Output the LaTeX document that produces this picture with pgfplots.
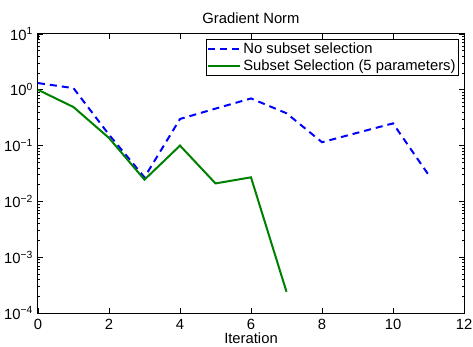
\documentclass[border=0pt]{standalone}
\usepackage{pgfplots}
\pgfplotsset{compat=1.18}
\usepackage{fontspec}
\setmainfont{Liberation Sans}
\definecolor{mblue}{rgb}{0,0,1}
\definecolor{mgreen}{rgb}{0,0.5,0}
\begin{document}
\fontsize{14.8}{17}\selectfont
\begin{tikzpicture}
\useasboundingbox (-38pt,-34pt) rectangle (435pt,313pt);
\begin{axis}[
  scale only axis,
  width=426pt, height=279pt,
  ymode=log,
  xmin=0, xmax=12, ymin=1e-4, ymax=1e1,
  xtick={0,2,...,12},
  ytick={1e-4,1e-3,1e-2,1e-1,1e0,1e1},
  yticklabels={10\textsuperscript{−4},10\textsuperscript{−3},10\textsuperscript{−2},10\textsuperscript{−1},10\textsuperscript{0},10\textsuperscript{1}},
  /pgf/number format/assume math mode=true,
  tick align=inside,
  major tick length=5pt,
  minor tick length=2.5pt,
  tick style={black, line width=0.6pt},
  axis line style={black, line width=1pt},
  xticklabel style={font=\fontsize{14.8}{17}\selectfont, yshift=-1pt},
  yticklabel style={font=\fontsize{14.8}{17}\selectfont},
  title={Gradient Norm},
  title style={font=\fontsize{14.8}{17}\selectfont, yshift=-1pt},
  xlabel={Iteration},
  xlabel style={font=\fontsize{14.8}{17}\selectfont, yshift=7pt},
  legend style={at={(rel axis cs:1,1)}, anchor=north east, xshift=-5pt, yshift=-5pt,
    draw=black, line width=0.8pt, font=\fontsize{14.8}{17}\selectfont,
    inner sep=1pt, row sep=0pt, cells={anchor=west}},
  legend image code/.code={\draw[#1, line width=2pt] (0pt,0pt) -- (32pt,0pt);},
  legend cell align=left,
]
\addplot[mblue, line width=2pt, dash pattern=on 7pt off 5pt] coordinates {
(0,1.32) (1,1.07) (2,0.157) (3,0.027) (4,0.30) (5,0.46) (6,0.70) (7,0.38) (8,0.115) (9,0.17) (10,0.25) (11,0.030)
};
\addlegendentry{No subset selection}
\addplot[mgreen, line width=2pt] coordinates {
(0,1.0) (1,0.49) (2,0.137) (3,0.0245) (4,0.10) (5,0.021) (6,0.027) (7,0.00024)
};
\addlegendentry{Subset Selection (5 parameters)}
\end{axis}
\end{tikzpicture}
\end{document}
